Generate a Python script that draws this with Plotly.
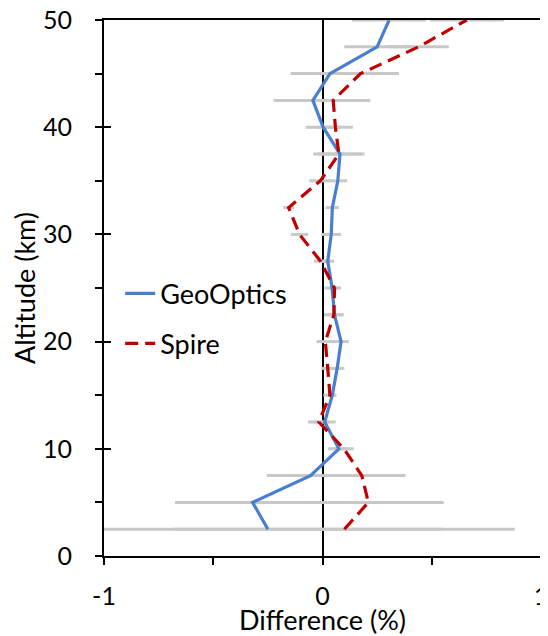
import plotly.graph_objects as go

# ---- data ----
altitude_km = [2.5, 5, 7.5, 10, 12.5, 15, 17.5, 20, 22.5, 25, 27.5, 30, 32.5, 35, 37.5, 40, 42.5, 45, 47.5, 50]
geooptics_diff = [-0.25, -0.32, -0.055, 0.075, 0.01, 0.045, 0.067, 0.085, 0.055, 0.044, 0.024, 0.04, 0.045, 0.07, 0.08, 0.003, -0.044, 0.034, 0.25, 0.305]
geooptics_err = [0.80, 0.355, 0.20, 0.05, 0.05, 0.015, 0.033, 0.035, 0.04, 0.035, 0.03, 0.045, 0.03, 0.043, 0.10, 0.08, 0.18, 0.18, 0.15, 0.17]
spire_diff = [0.10, 0.21, 0.18, 0.098, -0.017, 0.034, 0.024, 0.013, 0.052, 0.055, -0.009, -0.105, -0.155, -0.01, 0.075, 0.059, 0.049, 0.174, 0.44, 0.66]
spire_err = [0.78, 0.345, 0.20, 0.045, 0.05, 0.03, 0.03, 0.04, 0.045, 0.03, 0.03, 0.04, 0.025, 0.05, 0.117, 0.08, 0.17, 0.176, 0.138, 0.17]

series_names = ["GeoOptics", "Spire"]
x_tick_vals = [-1, 0, 1]
x_tick_labels = ["-1", "0", "1"]
y_tick_vals = [0, 10, 20, 30, 40, 50]
y_tick_labels = ["0", "10", "20", "30", "40", "50"]

FONT = "Lato"
BAR_GRAY = "#c8c8c8"
BLUE = "#4a7fcf"
RED = "#c00000"

fig = go.Figure()

# error bars (drawn first so both lines sit above them)
for xs, errs in ((geooptics_diff, geooptics_err), (spire_diff, spire_err)):
    fig.add_trace(go.Scatter(
        x=xs, y=altitude_km, mode="markers",
        marker=dict(size=1, opacity=0),
        error_x=dict(type="data", array=errs, symmetric=True,
                     color=BAR_GRAY, thickness=3, width=0),
        showlegend=False, hoverinfo="skip"))

fig.add_trace(go.Scatter(
    x=geooptics_diff, y=altitude_km, mode="lines", name=series_names[0],
    line=dict(color=BLUE, width=3.2), legendgroup="g"))
fig.add_trace(go.Scatter(
    x=spire_diff, y=altitude_km, mode="lines", name=series_names[1],
    line=dict(color=RED, width=3.2, dash="13px,7px"), legendgroup="s"))

# empty trace on overlay axes (used only for the inner half of cross ticks)
fig.add_trace(go.Scatter(x=[], y=[], xaxis="x2", yaxis="y2",
                         showlegend=False, hoverinfo="skip"))

axis_common = dict(
    showgrid=False, showline=True, linecolor="black", linewidth=2,
    mirror=True, ticks="outside", ticklen=7, tickwidth=2, tickcolor="black",
    tickfont=dict(family=FONT, size=25, color="black"), automargin=False,
    ticklabeloverflow="allow",
)

# page body has an 8px default margin, so the figure is sized to fit inside
fig.update_layout(
    width=540, height=628,
    margin=dict(l=96, r=7, t=12, b=80),
    paper_bgcolor="white", plot_bgcolor="white",
    font=dict(family=FONT, size=27, color="black"),
    xaxis=dict(
        range=[-1, 1], tickvals=x_tick_vals, ticktext=x_tick_labels,
        minor=dict(tickvals=[-0.5, 0.5], ticks="outside", ticklen=7,
                   tickwidth=2, tickcolor="black"),
        zeroline=True, zerolinecolor="black", zerolinewidth=2,
        title=dict(text="Difference (%)", font=dict(family=FONT, size=27),
                   standoff=5),
        ticklabelstandoff=10,
        **axis_common),
    yaxis=dict(
        range=[0, 50], tickvals=y_tick_vals, ticktext=y_tick_labels,
        minor=dict(tickvals=[5, 15, 25, 35, 45], ticks="outside", ticklen=7,
                   tickwidth=2, tickcolor="black"),
        zeroline=False,
        title=dict(text="Altitude (km)", font=dict(family=FONT, size=27),
                   standoff=8),
        ticklabelstandoff=18,
        **axis_common),
    xaxis2=dict(overlaying="x", anchor="y", side="bottom", range=[-1, 1],
                tickvals=x_tick_vals, ticks="inside", ticklen=7, tickwidth=2,
                tickcolor="black", showticklabels=False, showgrid=False,
                zeroline=False, showline=False, automargin=False),
    yaxis2=dict(overlaying="y", anchor="x", side="left", range=[0, 50],
                tickvals=y_tick_vals, ticks="inside", ticklen=7, tickwidth=2,
                tickcolor="black", showticklabels=False, showgrid=False,
                zeroline=False, showline=False, automargin=False),
    legend=dict(x=0.037, y=0.535, xanchor="left", yanchor="top",
                bgcolor="rgba(0,0,0,0)", font=dict(family=FONT, size=27),
                traceorder="grouped", tracegroupgap=12, itemwidth=30),
    showlegend=True,
)

fig.write_html("out.html")
